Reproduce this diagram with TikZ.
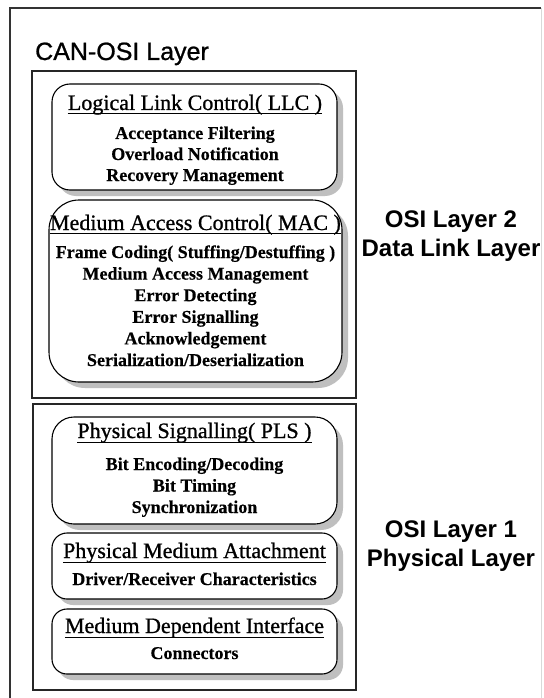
\documentclass[tikz,border=0pt]{standalone}
\usepackage{fontspec}
\setmainfont{Liberation Serif}
\newfontfamily\arialfont{Liberation Sans}
\newfontfamily\headfont[FakeBold=0.9]{Liberation Sans}
\newfontfamily\titlefont[FakeBold=0.9]{Liberation Serif}
\newfontfamily\itemfont[FakeBold=0.4]{Liberation Serif Bold}
\usetikzlibrary{shadows}
\begin{document}
\begin{tikzpicture}[x=1pt,y=-1pt,
  layerbox/.style={draw=black!85,line width=1.2pt,inner sep=0pt},
  sublayer/.style={draw=black,line width=1.1pt,fill=white,inner sep=0pt,
    drop shadow={shadow xshift=6pt,shadow yshift=-6pt,fill=black!25,opacity=1}},
  titletext/.style={font=\titlefont\fontsize{22}{24}\selectfont,inner sep=0pt,anchor=base},
  itemtext/.style={font=\itemfont\fontsize{18}{21}\selectfont,inner sep=0pt,anchor=base},
  heading/.style={font=\headfont\fontsize{25}{30}\selectfont,inner sep=0pt,anchor=base},
  sidelabel/.style={font=\arialfont\bfseries\fontsize{24}{29}\selectfont,inner sep=0pt,anchor=base},
  rule/.style={line width=0.9pt},
]
\useasboundingbox (0,0) rectangle (543,698);
\fill[white] (0,0) rectangle (543,698);

% outer frame (bottom edge lies below the page)
\draw[black!80,line width=1.2pt] (10,710) -- (10,8) -- (541,8);
\draw[black!15,line width=0.8pt] (541,8) -- (541,710);

\node[heading,anchor=base west] (canosi) at (35,60) {CAN-OSI Layer};

% the two OSI layers
\node[layerbox,minimum width=324pt,minimum height=327pt] (dll) at (194,234.5) {};
\node[layerbox,minimum width=323pt,minimum height=286pt] (phy) at (194.5,547) {};

% sublayer boxes
\node[sublayer,rounded corners=18pt,minimum width=285pt,minimum height=106pt] (llc) at (194.5,137) {};
\node[sublayer,rounded corners=30pt,minimum width=293pt,minimum height=182pt] (mac) at (195.5,291) {};
\node[sublayer,rounded corners=22pt,minimum width=285pt,minimum height=107pt] (pls) at (194.5,470.5) {};
\node[sublayer,rounded corners=15pt,minimum width=285pt,minimum height=66pt] (pma) at (194.5,566) {};
\node[sublayer,rounded corners=15pt,minimum width=285pt,minimum height=65pt] (mdi) at (194.5,641.5) {};

% titles with underline
\node[titletext] (llct) at (195,110) {Logical Link Control( LLC )};
\draw[rule] ([yshift=-3pt]llct.base west) -- ([yshift=-3pt]llct.base east);
\node[titletext] (mact) at (195.5,230) {Medium Access Control( MAC )};
\draw[rule] ([yshift=-3pt]mact.base west) -- ([yshift=-3pt]mact.base east);
\node[titletext] (plst) at (194.5,438) {Physical Signalling( PLS )};
\draw[rule] ([yshift=-4pt]plst.base west) -- ([yshift=-4pt]plst.base east);
\node[titletext] (pmat) at (194.5,558) {Physical Medium Attachment};
\draw[rule] ([yshift=-4pt]pmat.base west) -- ([yshift=-4pt]pmat.base east);
\node[titletext] (mdit) at (194.5,633) {Medium Dependent Interface};
\draw[rule] ([yshift=-4pt]mdit.base west) -- ([yshift=-4pt]mdit.base east);

% sublayer functions
\foreach \t [count=\i] in {Acceptance Filtering,Overload Notification,Recovery Management}
  \node[itemtext] (llc-\i) at (195,{139+(\i-1)*21}) {\t};
\foreach \t [count=\i] in {Frame Coding( Stuffing/Destuffing ),Medium Access Management,
    Error Detecting,Error Signalling,Acknowledgement,Serialization/Deserialization}
  \node[itemtext] (mac-\i) at (195.5,{258+(\i-1)*21.6}) {\t};
\foreach \t [count=\i] in {Bit Encoding/Decoding,Bit Timing,Synchronization}
  \node[itemtext] (pls-\i) at (194.5,{470+(\i-1)*21.5}) {\t};
\node[itemtext] (pma-1) at (194.5,585) {Driver/Receiver Characteristics};
\node[itemtext] (mdi-1) at (194.5,659) {Connectors};

% layer names
\node[sidelabel] (l2a) at (451,227) {OSI Layer 2};
\node[sidelabel] (l2b) at (451,256) {Data Link Layer};
\node[sidelabel] (l1a) at (451,537) {OSI Layer 1};
\node[sidelabel] (l1b) at (451,566) {Physical Layer};
\end{tikzpicture}
\end{document}
